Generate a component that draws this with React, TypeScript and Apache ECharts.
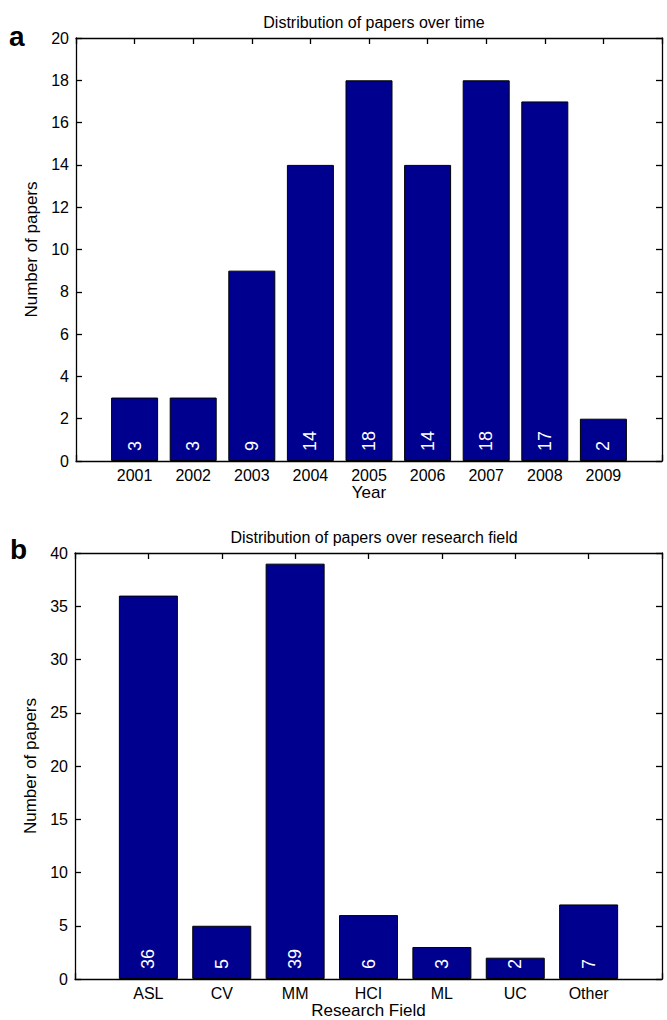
import React, { useEffect, useRef } from "react";
import * as echarts from "echarts";

const years = [2001, 2002, 2003, 2004, 2005, 2006, 2007, 2008, 2009];
const yearCounts = [3, 3, 9, 14, 18, 14, 18, 17, 2];
const fields = ["ASL", "CV", "MM", "HCI", "ML", "UC", "Other"];
const fieldCounts = [36, 5, 39, 6, 3, 2, 7];

const FONT = "'Liberation Sans', Arial, Helvetica, sans-serif";
const BAR_COLOR = "#00008F";

export default function App() {
  const ref = useRef<HTMLDivElement>(null);
  useEffect(() => {
    document.body.style.margin = "0";
    if (!ref.current) return;
    const chart = echarts.init(ref.current, null, { renderer: "svg" });
    const line = { color: "#000", width: 1.3 };
    const tick = { show: true, inside: true, length: 6, lineStyle: line };
    const lbl = { fontSize: 16, color: "#000", fontFamily: FONT };
    const nameStyle = { fontSize: 17, color: "#000", fontFamily: FONT };
    const barLabel = {
      show: true,
      position: "insideBottom",
      rotate: 90,
      align: "left",
      verticalAlign: "middle",
      distance: 10,
      color: "#fff",
      fontSize: 18,
      fontFamily: FONT,
      formatter: (p: any) => String(p.value[1]),
    };
    const mirrorX = (grid: number, min: number, max: number) => ({
      gridIndex: grid,
      type: "value",
      position: "top",
      min,
      max,
      interval: 1,
      axisLine: { show: true, onZero: false, lineStyle: line },
      axisTick: tick,
      axisLabel: { show: false },
      splitLine: { show: false },
    });
    const mirrorY = (grid: number, max: number, interval: number) => ({
      gridIndex: grid,
      type: "value",
      position: "right",
      min: 0,
      max,
      interval,
      axisLine: { show: true, onZero: false, lineStyle: line },
      axisTick: tick,
      axisLabel: { show: false },
      splitLine: { show: false },
    });
    chart.setOption({
      animation: false,
      textStyle: { fontFamily: FONT },
      title: [
        {
          text: "Distribution of papers over time",
          left: 369,
          top: 9,
          textAlign: "center",
          textStyle: { fontSize: 16, fontWeight: "normal", color: "#000", fontFamily: FONT },
        },
        {
          text: "Distribution of papers over research field",
          left: 369,
          top: 524,
          textAlign: "center",
          textStyle: { fontSize: 16, fontWeight: "normal", color: "#000", fontFamily: FONT },
        },
      ],
      graphic: [
        { type: "text", left: 9, top: 22, style: { text: "a", font: `bold 28px ${FONT}`, fill: "#000" } },
        { type: "text", left: 10, top: 535, style: { text: "b", font: `bold 28px ${FONT}`, fill: "#000" } },
      ],
      grid: [
        { left: 76, top: 38, width: 586, height: 423 },
        { left: 75, top: 553, width: 587, height: 430 },
      ],
      xAxis: [
        {
          gridIndex: 0,
          type: "value",
          position: "bottom",
          min: 2000,
          max: 2010,
          interval: 1,
          axisLine: { show: true, onZero: false, lineStyle: line },
          axisTick: tick,
          axisLabel: {
            ...lbl,
            margin: 6,
            formatter: (v: number) => (years.includes(v) ? String(v) : ""),
          },
          splitLine: { show: false },
          name: "Year",
          nameLocation: "middle",
          nameGap: 23,
          nameTextStyle: nameStyle,
        },
        mirrorX(0, 2000, 2010),
        {
          gridIndex: 1,
          type: "value",
          position: "bottom",
          min: 0,
          max: 8,
          interval: 1,
          axisLine: { show: true, onZero: false, lineStyle: line },
          axisTick: tick,
          axisLabel: {
            ...lbl,
            margin: 6,
            formatter: (v: number) => (v >= 1 && v <= fields.length ? fields[v - 1] : ""),
          },
          splitLine: { show: false },
          name: "Research Field",
          nameLocation: "middle",
          nameGap: 23,
          nameTextStyle: nameStyle,
        },
        mirrorX(1, 0, 8),
      ],
      yAxis: [
        {
          gridIndex: 0,
          type: "value",
          position: "left",
          min: 0,
          max: 20,
          interval: 2,
          axisLine: { show: true, onZero: false, lineStyle: line },
          axisTick: tick,
          axisLabel: { ...lbl, margin: 7 },
          splitLine: { show: false },
          name: "Number of papers",
          nameLocation: "middle",
          nameGap: 34,
          nameTextStyle: nameStyle,
        },
        mirrorY(0, 20, 2),
        {
          gridIndex: 1,
          type: "value",
          position: "left",
          min: 0,
          max: 40,
          interval: 5,
          axisLine: { show: true, onZero: false, lineStyle: line },
          axisTick: tick,
          axisLabel: { ...lbl, margin: 7 },
          splitLine: { show: false },
          name: "Number of papers",
          nameLocation: "middle",
          nameGap: 34,
          nameTextStyle: nameStyle,
        },
        mirrorY(1, 40, 5),
      ],
      series: [
        {
          type: "bar",
          xAxisIndex: 0,
          yAxisIndex: 0,
          barWidth: 47,
          data: years.map((y, i) => [y, yearCounts[i]]),
          itemStyle: { color: BAR_COLOR, borderColor: "#000", borderWidth: 1 },
          label: barLabel,
        },
        {
          type: "bar",
          xAxisIndex: 2,
          yAxisIndex: 2,
          barWidth: 59,
          data: fields.map((_, i) => [i + 1, fieldCounts[i]]),
          itemStyle: { color: BAR_COLOR, borderColor: "#000", borderWidth: 1 },
          label: barLabel,
        },
      ],
    });
    return () => chart.dispose();
  }, []);
  return <div ref={ref} style={{ width: 667, height: 1020 }} />;
}
